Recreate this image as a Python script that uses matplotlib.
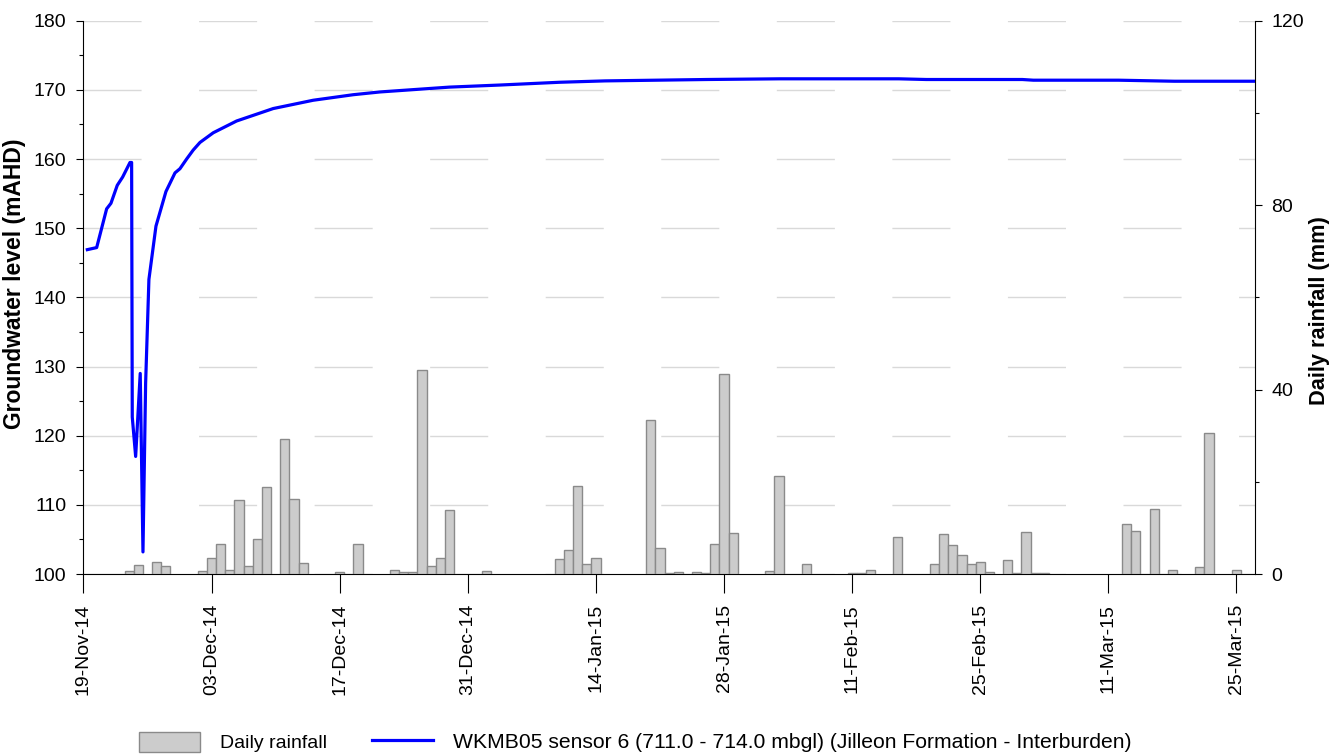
import pandas as pd
import matplotlib
matplotlib.use("Agg")
import matplotlib.pyplot as plt
import matplotlib.dates as mdates
from matplotlib.ticker import MultipleLocator

plt.rcParams['font.family'] = ['Liberation Sans', 'DejaVu Sans']

start = pd.Timestamp("2014-11-19")

# daily rainfall (mm)
rain_dates = ["2014-11-24", "2014-11-25", "2014-11-27", "2014-11-28", "2014-12-02",
              "2014-12-03", "2014-12-04", "2014-12-05", "2014-12-06", "2014-12-07",
              "2014-12-08", "2014-12-09", "2014-12-11", "2014-12-12", "2014-12-13",
              "2014-12-17", "2014-12-19", "2014-12-23", "2014-12-24", "2014-12-25",
              "2014-12-26", "2014-12-27", "2014-12-28", "2014-12-29", "2015-01-02",
              "2015-01-10", "2015-01-11", "2015-01-12", "2015-01-13", "2015-01-14",
              "2015-01-20", "2015-01-21", "2015-01-22", "2015-01-23", "2015-01-25",
              "2015-01-26", "2015-01-27", "2015-01-28", "2015-01-29", "2015-02-02",
              "2015-02-03", "2015-02-06", "2015-02-11", "2015-02-12", "2015-02-13",
              "2015-02-16", "2015-02-20", "2015-02-21", "2015-02-22", "2015-02-23",
              "2015-02-24", "2015-02-25", "2015-02-26", "2015-02-28", "2015-03-01",
              "2015-03-02", "2015-03-03", "2015-03-04", "2015-03-13", "2015-03-14",
              "2015-03-16", "2015-03-18", "2015-03-21", "2015-03-22", "2015-03-25"]
rain_mm = [0.6, 2.0, 2.6, 1.7, 0.6,
           3.4, 6.6, 0.8, 16.0, 1.7,
           7.7, 18.8, 29.3, 16.2, 2.3,
           0.4, 6.6, 0.9, 0.4, 0.4,
           44.2, 1.7, 3.4, 13.9, 0.6,
           3.2, 5.2, 19.2, 2.1, 3.4,
           33.4, 5.6, 0.3, 0.4, 0.4,
           0.2, 6.6, 43.3, 9.0, 0.6,
           21.3, 2.2, 0.2, 0.2, 0.8,
           8.1, 2.2, 8.6, 6.4, 4.1,
           2.1, 2.6, 0.4, 3.0, 0.2,
           9.1, 0.2, 0.2, 10.9, 9.4,
           14.2, 0.9, 1.6, 30.6, 0.8]

# groundwater level, time in days since 19-Nov-14
gw_days = [0.42, 1.44, 2.53, 3.0, 3.69, 4.28, 5.08, 5.26, 5.33, 5.70,
           6.20, 6.50, 6.79, 7.15, 7.92, 9.01, 10.0, 10.54, 11.27, 11.99,
           12.73, 14.18, 16.73, 20.73, 25.10, 29.47, 32.39, 40.0, 45.5, 52.0,
           57.0, 68.1, 76.1, 89.1, 92.1, 102.6, 103.8, 113.1, 119.2, 127.9]
gw_level = [146.9, 147.2, 152.8, 153.6, 156.2, 157.4, 159.5, 159.5, 122.7, 117.0,
            129.0, 103.2, 127.6, 142.6, 150.3, 155.3, 158.0, 158.6, 160.0, 161.3,
            162.4, 163.8, 165.5, 167.3, 168.5, 169.3, 169.7, 170.4, 170.7, 171.1,
            171.3, 171.5, 171.6, 171.6, 171.5, 171.5, 171.4, 171.4, 171.25, 171.25]

tick_labels = ["19-Nov-14", "03-Dec-14", "17-Dec-14", "31-Dec-14", "14-Jan-15",
               "28-Jan-15", "11-Feb-15", "25-Feb-15", "11-Mar-15", "25-Mar-15"]

rain_x = pd.to_datetime(rain_dates)
gw_x = start + pd.to_timedelta(gw_days, unit="D")
tick_x = pd.to_datetime(tick_labels, format="%d-%b-%y")

fig, ax = plt.subplots(figsize=(13.38, 7.56), dpi=100)
fig.subplots_adjust(left=0.0624, right=0.9378, top=0.9726, bottom=0.2407)
ax2 = ax.twinx()

# grid + line on the left axis, bars on the right axis
ax.yaxis.grid(True, color="#d9d9d9", linestyle=(0, (41.8, 41.4)), linewidth=1)
ln, = ax.plot(gw_x, gw_level, color="#0000ff", linewidth=2.3,
              label="WKMB05 sensor 6 (711.0 - 714.0 mbgl) (Jilleon Formation - Interburden)")
bars = ax2.bar(rain_x, rain_mm, width=1.0, color="#cccccc", edgecolor="#8a8a8a",
               linewidth=1, label="Daily rainfall")

ax.set_xlim(start, pd.Timestamp("2015-03-27"))
ax.set_ylim(100, 180)
ax2.set_ylim(0, 120)

ax.set_xticks(tick_x)
ax.set_xticklabels(tick_labels, rotation=90)
ax.xaxis.set_major_formatter(mdates.DateFormatter("%d-%b-%y"))
ax.yaxis.set_major_locator(MultipleLocator(10))
ax.yaxis.set_minor_locator(MultipleLocator(5))
ax2.yaxis.set_major_locator(MultipleLocator(40))
ax2.yaxis.set_minor_locator(MultipleLocator(20))

ax.tick_params(axis="x", direction="out", length=13.5, width=0.8, pad=8, labelsize=14)
ax.tick_params(axis="y", which="major", direction="out", length=5, width=0.8, pad=7.5, labelsize=14)
ax.tick_params(axis="y", which="minor", direction="out", length=3, width=0.8)
ax2.tick_params(axis="y", which="major", direction="out", length=5, width=0.8, pad=7, labelsize=14)
ax2.tick_params(axis="y", which="minor", direction="out", length=3, width=0.8)

for s in ["top", "right"]:
    ax.spines[s].set_visible(False)
for s in ["top", "left", "bottom"]:
    ax2.spines[s].set_visible(False)
for s in ["left", "bottom"]:
    ax.spines[s].set_linewidth(0.8)
ax2.spines["right"].set_linewidth(0.8)

ax.set_ylabel("Groundwater level (mAHD)", fontsize=16.5, fontweight="bold")
ax2.set_ylabel("Daily rainfall (mm)", fontsize=15.7, fontweight="bold")
ax.yaxis.set_label_coords(-0.049, 0.525)
ax2.yaxis.set_label_coords(1.046, 0.477)

leg = fig.legend([bars, ln], ["Daily rainfall", ln.get_label()], loc="center left",
                 bbox_to_anchor=(0.0905, 0.0185), ncol=2, frameon=False, fontsize=14,
                 handlelength=3.15, handleheight=1.2, handletextpad=1.03, columnspacing=2.3)
leg.get_texts()[1].set_fontsize(15.2)

fig.savefig("out.png", dpi=100)
